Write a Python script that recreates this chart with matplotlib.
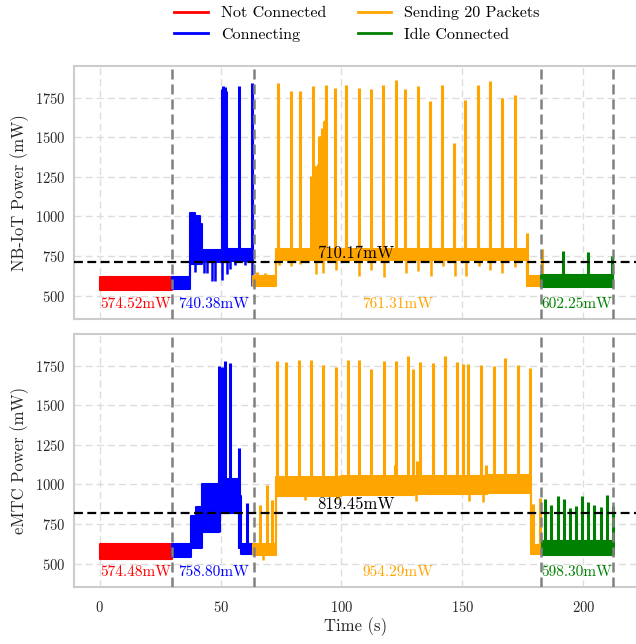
import numpy as np
import matplotlib
matplotlib.use("Agg")
import matplotlib.pyplot as plt

plt.rcParams.update({
    "font.family": "serif",
    "font.serif": ["cmr10"],
    "mathtext.fontset": "cm",
    "axes.unicode_minus": False,
    "axes.formatter.use_mathtext": True,
})

# ---------------- data ----------------
seg_names = ["Not Connected", "Connecting", "Sending 20 Packets", "Idle Connected"]
seg_colors = ["red", "blue", "orange", "green"]
boundaries = [30.0, 64.0, 182.5, 212.3]
yticks = [500, 750, 1000, 1250, 1500, 1750]
xticks = [0, 50, 100, 150, 200]

# NB-IoT panel -------------------------------------------------
nb_avg = 710.17
nb_seg_means = [574.52, 740.38, 761.31, 602.25]

nb_red_t = [0.0, 30.0]
nb_red_lo = [538, 538]
nb_red_hi = [616, 616]
nb_red_spk_t = []
nb_red_spk_v = []
nb_red_dip_t = []
nb_red_dip_v = []

nb_blue_t = [30.0, 37.5, 39.5, 41.5, 42.4, 50.0, 53.0, 63.3]
nb_blue_lo = [543, 700, 700, 700, 715, 715, 720, 720]
nb_blue_hi = [617, 1020, 1005, 950, 785, 785, 795, 795]
nb_blue_spk_t = [50.6, 51.2, 51.8, 52.4, 57.6, 63.0]
nb_blue_spk_v = [1805, 1822, 1818, 1795, 1823, 1845]
nb_blue_dip_t = [39.6, 43.0, 44.4, 46.3, 47.9, 50.5, 52.7, 54.0, 56.1, 60.3, 63.2]
nb_blue_dip_v = [650, 640, 645, 595, 590, 600, 635, 665, 690, 690, 560]

nb_orng_t = [63.5, 72.8, 176.5, 182.5]
nb_orng_lo = [560, 725, 560, 560]
nb_orng_hi = [625, 795, 625, 625]
nb_orng_spk_t = [65.2, 68.3, 73.7, 79.0, 82.7, 87.2, 88.4, 89.0, 89.6, 90.2, 90.8,
                 91.4, 92.0, 92.6, 93.1, 93.8, 97.3, 102.0, 107.1, 112.1, 117.1,
                 122.4, 126.4, 131.5, 136.7, 141.7, 146.6, 151.2, 156.4, 161.3,
                 166.2, 171.6, 176.5, 183.0]
nb_orng_spk_v = [650, 645, 1840, 1795, 1790, 1253, 1826, 1316, 1316, 1330, 1505,
                 1505, 1560, 1600, 1610, 1830, 1812, 1829, 1812, 1806, 1827,
                 1862, 1805, 1826, 1728, 1831, 1462, 1738, 1830, 1853,
                 1746, 1767, 895, 795]
nb_orng_dip_t = [74.3, 79.3, 83.0, 89.4, 92.3, 97.6, 102.4, 107.4, 112.4, 117.4,
                 126.7, 131.8, 137.0, 142.0, 146.9, 151.4, 156.7, 161.6, 166.5, 171.9]
nb_orng_dip_v = [690, 686, 697, 634, 640, 660, 710, 623, 660, 617,
                 640, 655, 623, 686, 623, 623, 686, 660, 640, 680]

nb_grn_t = [182.5, 212.3]
nb_grn_lo = [555, 555]
nb_grn_hi = [632, 632]
nb_grn_spk_t = [191.5, 201.9, 211.8]
nb_grn_spk_v = [781, 774, 752]
nb_grn_dip_t = []
nb_grn_dip_v = []

# eMTC panel ---------------------------------------------------
em_avg = 819.45
em_seg_means = [574.48, 758.80, 954.29, 598.30]

em_red_t = [0.0, 30.0]
em_red_lo = [532, 532]
em_red_hi = [622, 622]
em_red_spk_t = []
em_red_spk_v = []
em_red_dip_t = []
em_red_dip_v = []

em_blue_t = [30.0, 37.6, 39.8, 42.4, 49.4, 57.6, 58.5, 63.5]
em_blue_lo = [540, 600, 600, 700, 820, 600, 562, 562]
em_blue_hi = [622, 800, 860, 1000, 1035, 925, 625, 625]
em_blue_spk_t = [49.3, 50.0, 50.6, 52.0, 54.1, 57.6, 61.0]
em_blue_spk_v = [1745, 1735, 1740, 1777, 1766, 1230, 883]
em_blue_dip_t = []
em_blue_dip_v = []

em_orng_t = [63.5, 72.8, 100.0, 130.0, 160.0, 178.3, 182.9]
em_orng_lo = [557, 925, 930, 940, 945, 560, 560]
em_orng_hi = [625, 1045, 1050, 1055, 1060, 620, 620]
em_orng_spk_t = [66.3, 69.0, 71.4, 73.2, 77.2, 82.4, 87.5, 92.5, 97.6, 102.5,
                 107.3, 112.1, 117.6, 122.0, 122.7, 127.7, 129.4, 131.2, 132.6,
                 137.7, 142.8, 147.7, 150.3, 152.5, 157.8, 159.6, 162.9, 167.8,
                 172.9, 177.9, 179.0, 181.9]
em_orng_spk_v = [872, 998, 904, 1777, 1775, 1787, 1787, 1756, 1741, 1783,
                 1783, 1728, 1777, 1120, 1780, 1808, 1730, 1146, 1772,
                 1768, 1813, 1775, 1760, 1758, 1755, 1120, 1750, 1800,
                 1755, 1733, 875, 915]
em_orng_dip_t = [67.5, 85.0, 98.0, 130.8, 152.6, 158.5]
em_orng_dip_v = [525, 900, 905, 895, 893, 887]

em_grn_t = [182.9, 212.3]
em_grn_lo = [557, 557]
em_grn_hi = [641, 641]
em_grn_spk_t = [184.0, 186.7, 189.5, 191.9, 194.3, 196.9, 199.5, 201.9, 204.6,
                207.2, 209.8, 212.1]
em_grn_spk_v = [905, 870, 929, 905, 848, 864, 929, 890, 870, 855, 935, 862]
em_grn_dip_t = []
em_grn_dip_v = []

nb_segments = [
    (nb_red_t, nb_red_lo, nb_red_hi, nb_red_spk_t, nb_red_spk_v, nb_red_dip_t, nb_red_dip_v),
    (nb_blue_t, nb_blue_lo, nb_blue_hi, nb_blue_spk_t, nb_blue_spk_v, nb_blue_dip_t, nb_blue_dip_v),
    (nb_orng_t, nb_orng_lo, nb_orng_hi, nb_orng_spk_t, nb_orng_spk_v, nb_orng_dip_t, nb_orng_dip_v),
    (nb_grn_t, nb_grn_lo, nb_grn_hi, nb_grn_spk_t, nb_grn_spk_v, nb_grn_dip_t, nb_grn_dip_v),
]
em_segments = [
    (em_red_t, em_red_lo, em_red_hi, em_red_spk_t, em_red_spk_v, em_red_dip_t, em_red_dip_v),
    (em_blue_t, em_blue_lo, em_blue_hi, em_blue_spk_t, em_blue_spk_v, em_blue_dip_t, em_blue_dip_v),
    (em_orng_t, em_orng_lo, em_orng_hi, em_orng_spk_t, em_orng_spk_v, em_orng_dip_t, em_orng_dip_v),
    (em_grn_t, em_grn_lo, em_grn_hi, em_grn_spk_t, em_grn_spk_v, em_grn_dip_t, em_grn_dip_v),
]

# ---------------- figure ----------------
fig = plt.figure(figsize=(6.36, 6.44), dpi=100)
ax1 = fig.add_axes([74 / 636, 1 - 319 / 644, 564 / 636, 253 / 644])
ax2 = fig.add_axes([74 / 636, 1 - 587 / 644, 564 / 636, 253 / 644])


def band_value(t_arr, v_arr, t):
    t_arr = np.asarray(t_arr)
    i = np.searchsorted(t_arr, t, side="right") - 1
    i = int(np.clip(i, 0, len(v_arr) - 1))
    return v_arr[i]


def draw_panel(ax, segments, avg, means, ylabel, show_xlabel):
    for (t, lo, hi, st, sv, dt, dv), col in zip(segments, seg_colors):
        ax.fill_between(t, lo, hi, step="post", color=col, linewidth=1.5,
                        edgecolor=col, zorder=2)
        if st:
            base = [band_value(t, lo, x) for x in st]
            ax.vlines(st, base, sv, colors=col, linewidth=2.2, zorder=2)
        if dt:
            base = [band_value(t, lo, x) for x in dt]
            ax.vlines(dt, dv, base, colors=col, linewidth=1.8, zorder=2)
    for b in boundaries:
        ax.axvline(b, color="gray", linestyle=(0, (4, 2)), linewidth=1.8, zorder=4)
    ax.axhline(avg, color="black", linestyle=(0, (4, 2)), linewidth=1.6, zorder=5)
    ax.text(106, avg + 6, f"{avg:.2f}mW", ha="center", va="bottom",
            fontsize=12, color="black", zorder=6)
    starts = [0.0] + boundaries[:-1]
    for s, e, m, col in zip(starts, boundaries, means, seg_colors):
        ax.text((s + e) / 2, 447, f"{m:.2f}mW", ha="center", va="center",
                fontsize=11, color=col, zorder=6)
    ax.set_xlim(-10.6, 222.6)
    ax.set_ylim(352, 1950)
    ax.set_yticks(yticks)
    ax.set_xticks(xticks)
    ax.grid(True, color="#dddddd", linestyle=(0, (5, 3)), linewidth=1.0, zorder=0)
    ax.set_axisbelow(True)
    for sp in ax.spines.values():
        sp.set_color("#cccccc")
        sp.set_linewidth(1.5)
    ax.tick_params(length=0, labelsize=10.5, colors="#262626", pad=6)
    ax.tick_params(axis="x", pad=9)
    ax.set_ylabel(ylabel, fontsize=12, color="#262626", labelpad=4)
    if show_xlabel:
        ax.set_xlabel("Time (s)", fontsize=12, color="#262626", labelpad=2)
    else:
        ax.tick_params(axis="x", labelbottom=False)


draw_panel(ax1, nb_segments, nb_avg, nb_seg_means, "NB-IoT Power (mW)", False)
draw_panel(ax2, em_segments, em_avg, em_seg_means, "eMTC Power (mW)", True)

handles = [plt.Line2D([], [], color=c, linewidth=2) for c in seg_colors]
fig.legend(handles, seg_names,
           loc="center", bbox_to_anchor=(357 / 636, 1 - 24 / 644), ncol=2,
           frameon=False, fontsize=11.5, handlelength=2.1, handletextpad=0.8,
           columnspacing=2.0, labelspacing=0.45)

fig.savefig("out.png", dpi=100)
